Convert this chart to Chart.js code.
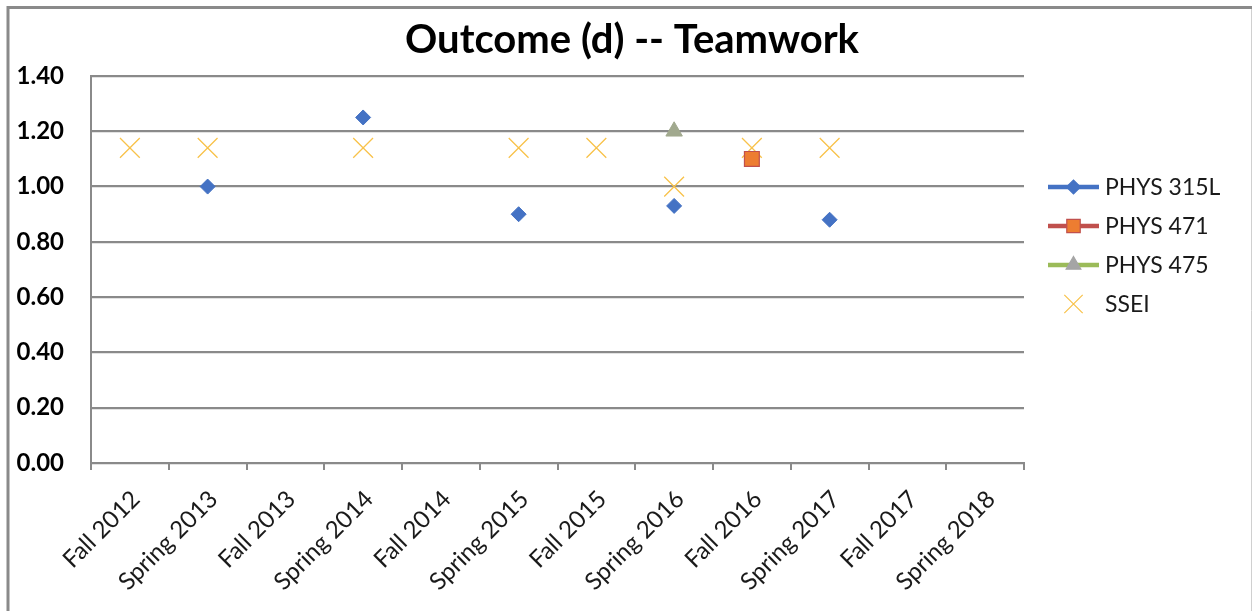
<!DOCTYPE html>
<html>
<head>
<meta charset="utf-8">
<title>Outcome (d) -- Teamwork</title>
<script src="https://cdn.jsdelivr.net/npm/chart.js@4/dist/chart.umd.min.js"></script>
<style>
  body { margin: 0; background: #fff; }
  #wrap { width: 1255px; height: 611px; }
</style>
</head>
<body>
<div id="wrap"><canvas id="teamworkChart" width="1255" height="611"></canvas></div>
<script>
const semesters = ['Fall 2012', 'Spring 2013', 'Fall 2013', 'Spring 2014', 'Fall 2014', 'Spring 2015',
    'Fall 2015', 'Spring 2016', 'Fall 2016', 'Spring 2017', 'Fall 2017', 'Spring 2018'];
const phys315L = [null, 1.00, null, 1.25, null, 0.90, null, 0.93, null, 0.88, null, null];
const phys471 = [null, null, null, null, null, null, null, null, 1.10, null, null, null];
const phys475 = [null, null, null, null, null, null, null, 1.20, null, null, null, null];
const ssei = [1.14, 1.14, null, 1.14, null, 1.14, 1.14, 1.00, 1.14, 1.14, null, null];
const yTicks = [0, 0.2, 0.4, 0.6, 0.8, 1.0, 1.2, 1.4];

const gridGray = '#8a8a8a';
const font = "Lato, 'Open Sans', sans-serif";

// legend entries: line colour, marker look
const legendItems = [
    { text: 'PHYS 315L', line: '#4472C4', style: 'rectRot', fill: '#4472C4', stroke: '#4472C4', r: 7 },
    { text: 'PHYS 471', line: '#C0504D', style: 'rect', fill: '#ED7D31', stroke: '#C0504D', r: 9.5 },
    { text: 'PHYS 475', line: '#9BBB59', style: 'triangle', fill: '#A5A5A5', stroke: '#A5A5A5', r: 8.5 },
    { text: 'SSEI', line: null, style: 'crossRot', fill: '#FFC000', stroke: '#F8C24A', r: 13 }
];

function marker(ctx, item, x, y) {
    ctx.save();
    ctx.fillStyle = item.fill;
    ctx.strokeStyle = item.stroke;
    ctx.lineWidth = 1.2;
    Chart.helpers.drawPoint(ctx, { pointStyle: item.style, radius: item.r, rotation: 0, borderWidth: 1.2 }, x, y);
    ctx.restore();
}

const frameAndText = {
    id: 'frameAndText',
    beforeDraw(chart) {
        const ctx = chart.ctx;
        ctx.save();
        ctx.fillStyle = '#fff';
        ctx.fillRect(0, 0, chart.width, chart.height);
        ctx.strokeStyle = '#8a8a8a';
        ctx.lineWidth = 3;
        ctx.beginPath();
        ctx.moveTo(8, 620);
        ctx.lineTo(8, 7.5);
        ctx.lineTo(1252, 7.5);
        ctx.stroke();
        ctx.strokeStyle = '#d0d0d0';
        ctx.lineWidth = 1;
        ctx.beginPath();
        ctx.moveTo(1251.5, 9);
        ctx.lineTo(1251.5, 620);
        ctx.stroke();
        ctx.restore();
    },
    afterDraw(chart) {
        const ctx = chart.ctx;
        const area = chart.chartArea;
        ctx.save();
        // title
        ctx.fillStyle = '#000';
        ctx.font = "bold 40px " + font;
        ctx.textAlign = 'center';
        ctx.textBaseline = 'alphabetic';
        ctx.fillText('Outcome (d) -- Teamwork', 632, 53);
        // legend
        ctx.font = "23px " + font;
        ctx.textAlign = 'left';
        ctx.textBaseline = 'middle';
        const x0 = area.right + 24;
        legendItems.forEach((item, i) => {
            const y = 187 + i * 39;
            if (item.line) {
                ctx.strokeStyle = item.line;
                ctx.lineWidth = 4.5;
                ctx.beginPath();
                ctx.moveTo(x0, y);
                ctx.lineTo(x0 + 51, y);
                ctx.stroke();
            }
            marker(ctx, item, x0 + 25.5, y);
            ctx.fillStyle = '#1a1a1a';
            ctx.fillText(item.text, x0 + 57, y + 1);
        });
        ctx.restore();
    }
};

new Chart(document.getElementById('teamworkChart'), {
    type: 'line',
    data: {
        labels: semesters,
        datasets: [
            {
                label: 'PHYS 315L', data: phys315L, showLine: false,
                pointStyle: 'rectRot', pointRadius: 7.5, pointHoverRadius: 7.5,
                backgroundColor: '#4472C4', borderColor: '#4472C4', pointBorderWidth: 1
            },
            {
                label: 'PHYS 471', data: phys471, showLine: false,
                pointStyle: 'rect', pointRadius: 10.5, pointHoverRadius: 10.5,
                backgroundColor: '#ED7D31', borderColor: '#C0504D', pointBorderWidth: 1.2
            },
            {
                label: 'PHYS 475', data: phys475, showLine: false,
                pointStyle: 'triangle', pointRadius: 9.5, pointHoverRadius: 9.5,
                backgroundColor: '#A1A98E', borderColor: '#A1A98E', pointBorderWidth: 1
            },
            {
                label: 'SSEI', data: ssei, showLine: false,
                pointStyle: 'crossRot', pointRadius: 14, pointHoverRadius: 14,
                backgroundColor: '#FFC000', borderColor: '#F8C24A', pointBorderWidth: 1.3
            }
        ]
    },
    options: {
        responsive: false,
        animation: false,
        layout: { padding: { top: 76, right: 231, bottom: 0, left: 0 } },
        plugins: {
            legend: { display: false },
            title: { display: false },
            tooltip: { enabled: false }
        },
        scales: {
            x: {
                offset: true,
                grid: {
                    offset: true, drawOnChartArea: false, drawTicks: true,
                    tickLength: 7, color: gridGray, lineWidth: 2
                },
                border: { display: true, color: gridGray, width: 2 },
                ticks: {
                    minRotation: 45, maxRotation: 45, padding: 15, labelOffset: 6, autoSkip: false,
                    color: '#1a1a1a', font: { family: font, size: 24 }
                },
                afterFit(scale) { scale.height = 148; }
            },
            y: {
                min: 0, max: 1.4,
                afterBuildTicks(scale) { scale.ticks = yTicks.map(v => ({ value: v })); },
                grid: { drawTicks: false, color: gridGray, lineWidth: 2.2 },
                border: { display: true, color: gridGray, width: 2 },
                ticks: {
                    padding: 27, color: '#000',
                    font: { family: font, size: 24, weight: 'bold' },
                    callback: v => v.toFixed(2)
                },
                afterFit(scale) { scale.width = 91; }
            }
        }
    },
    plugins: [frameAndText]
});
</script>
</body>
</html>
